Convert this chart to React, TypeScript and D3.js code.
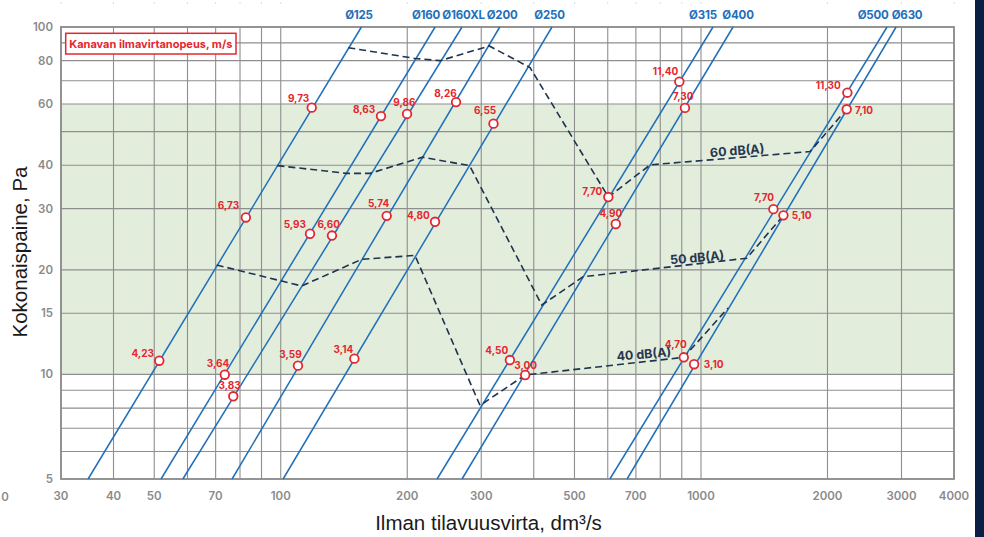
import React from "react";
import * as d3 from "d3";

// ---- Data ----
const xTicks = [30, 40, 50, 70, 100, 200, 300, 500, 700, 1000, 2000, 3000, 4000];
const xGrid = [30, 40, 50, 60, 70, 80, 90, 100, 200, 300, 400, 500, 600, 700, 800, 900, 1000, 2000, 3000, 4000];
const yTicks = [5, 10, 15, 20, 30, 40, 60, 80, 100];
const yGrid = [5, 6, 7, 8, 9, 10, 15, 20, 30, 40, 50, 60, 70, 80, 90, 100];

const ductNames = ["Ø125", "Ø160", "Ø160XL", "Ø200", "Ø250", "Ø315", "Ø400", "Ø500", "Ø630"];
const ductQAt5Pa = [34.8, 51.9, 58.5, 76.6, 101.3, 235.5, 270, 607, 667];
const ductQAt100Pa = [155.6, 233, 270, 332, 442, 1068, 1192, 2772, 2913];
const ductLabelQ = [153.5, 221.7, 272.3, 336.3, 436.2, 1011, 1225, 2568, 3093];

const velocityLabels = [
  "9,73", "6,73", "4,23",
  "8,63", "5,93", "3,64",
  "9,86", "6,60", "3,83",
  "8,26", "5,74", "3,59",
  "6,55", "4,80", "3,14",
  "11,40", "7,70", "4,50",
  "7,30", "4,90", "3,00",
  "11,30", "7,70", "4,70",
  "7,10", "5,10", "3,10",
];
const velocityQ = [
  118.5, 82.6, 51.4,
  173.2, 117.4, 73.6,
  199.8, 132.4, 77.1,
  261.3, 178.7, 109.9,
  320.8, 232.9, 149.7,
  888, 602, 351,
  916, 627, 381.7,
  2230, 1487, 910,
  2222, 1571, 963,
];
const velocityP = [
  58.6, 28.3, 10.95,
  55.4, 25.4, 9.98,
  56.2, 25.1, 8.65,
  60.8, 28.6, 10.6,
  52.7, 27.5, 11.1,
  69.6, 32.4, 11.0,
  58.5, 27.1, 9.96,
  64.7, 29.9, 11.2,
  57.96, 28.7, 10.7,
];
// label placement: [anchor, dx, dy]
const labelPlacement: [string, number, number][] = [
  ["end", -2.4, -6], ["end", -6.7, -8.4], ["end", -5.3, -4],
  ["end", -5.7, -3.6], ["end", -4, -5.4], ["end", 4.6, -8],
  ["middle", -2.7, -8], ["middle", -3.3, -7.7], ["middle", -3.6, -7],
  ["end", 0.7, -5.3], ["end", 2.5, -9], ["end", 3.7, -7.7],
  ["end", 2.7, -10], ["end", -5.3, -2.3], ["end", -1, -6],
  ["end", -1, -6.7], ["end", -6, -2.5], ["end", -1.7, -5.7],
  ["middle", -1.9, -8], ["middle", -4.9, -7.3], ["middle", 0.5, -6.4],
  ["end", -6.6, -3.4], ["end", 0.7, -7.7], ["end", 3, -9],
  ["start", 8.3, 4.3], ["start", 8.4, 4], ["start", 9.6, 3.6],
];

const line60: [number, number][] = [
  [144.8, 87.2], [208.7, 81.2], [239.4, 80.0], [313.5, 88.2], [392, 76.4],
  [602, 32.4], [756.7, 40.1], [1818, 43.8], [2222, 58.0],
];
const line50: [number, number][] = [
  [98.2, 39.9], [143.6, 37.9], [163.1, 37.9], [217.5, 42.2], [281.5, 39.9],
  [418, 15.84], [524, 19.1], [1285, 21.6], [1571, 28.7],
];
const line40: [number, number][] = [
  [70.4, 20.65], [112.2, 17.97], [155.9, 21.45], [208.7, 22.0], [298, 8.14],
  [381.7, 9.96], [910, 11.2], [1160, 15.53],
];
const dbLabelText = ["60 dB(A)", "50 dB(A)", "40 dB(A)"];
const dbLabelQ = [1219, 979, 731];
const dbLabelP = [44.1, 21.7, 11.45];
const dbLabelAngle = [-4.5, -5, -5];

const greenBand = [10, 60];

// ---- Layout ----
const W = 984;
const H = 537;
const x = d3.scaleLog().domain([30, 4000]).range([61, 954]);
const y = d3.scaleLog().domain([5, 100]).range([479, 27]);

const FONT = "Inter, 'Noto Sans', sans-serif";
const BLUE = "#1f6fba";
const RED = "#e42630";
const NAVY = "#1d3350";
const GRID = "#8e8e8e";

export default function App() {
  const line = d3
    .line<[number, number]>()
    .x((d) => x(d[0]))
    .y((d) => y(d[1]));

  const [x0, x1] = x.range();
  const [yb, yt] = y.range();

  return (
    <svg
      width={W}
      height={H}
      viewBox={`0 0 ${W} ${H}`}
      style={{ position: "absolute", left: 0, top: 0, background: "#fff" }}
      fontFamily={FONT}
    >
      {/* green band */}
      <rect
        x={x0}
        y={y(greenBand[1])}
        width={x1 - x0}
        height={y(greenBand[0]) - y(greenBand[1])}
        fill="#e3eddc"
      />
      {/* faint top marks */}
      {xGrid.map((v) => (
        <line key={"tm" + v} x1={x(v)} x2={x(v)} y1={2} y2={4} stroke="#dcdcdc" strokeWidth={1} />
      ))}
      {/* grid */}
      {xGrid.map((v) => (
        <line key={"gx" + v} x1={x(v)} x2={x(v)} y1={yt} y2={yb} stroke={GRID} strokeWidth={1.1} />
      ))}
      {yGrid.map((v) => (
        <line key={"gy" + v} x1={x0} x2={x1} y1={y(v)} y2={y(v)} stroke={GRID} strokeWidth={1.1} />
      ))}
      <rect x={x0} y={yt} width={x1 - x0} height={yb - yt} fill="none" stroke={GRID} strokeWidth={1.8} />

      {/* tick labels */}
      {yTicks.map((v) => (
        <text
          key={"ty" + v}
          x={53}
          y={y(v)}
          textAnchor="end"
          dominantBaseline="central"
          fontSize={11.5}
          fontWeight={600}
          fill="#8a8a8a"
        >
          {v}
        </text>
      ))}
      {xTicks.map((v) => (
        <text
          key={"tx" + v}
          x={x(v)}
          y={496}
          textAnchor="middle"
          dominantBaseline="central"
          fontSize={11.5}
          fontWeight={600}
          fill="#8a8a8a"
        >
          {v}
        </text>
      ))}
      <text x={5} y={497} textAnchor="middle" dominantBaseline="central" fontSize={11.5} fontWeight={600} fill="#8a8a8a">
        0
      </text>

      {/* duct lines */}
      {ductNames.map((n, i) => (
        <line
          key={"d" + n}
          x1={x(ductQAt5Pa[i])}
          y1={y(5)}
          x2={x(ductQAt100Pa[i])}
          y2={y(100)}
          stroke={BLUE}
          strokeWidth={1.5}
        />
      ))}
      {ductNames.map((n, i) => (
        <text
          key={"dl" + n}
          x={x(ductLabelQ[i])}
          y={19}
          textAnchor="middle"
          fontSize={11.5}
          fontWeight={700}
          letterSpacing={-0.2}
          fill={BLUE}
        >
          {n}
        </text>
      ))}

      {/* sound level dashed lines */}
      {[line60, line50, line40].map((l, i) => (
        <path
          key={"s" + i}
          d={line(l) || ""}
          fill="none"
          stroke={NAVY}
          strokeWidth={1.6}
          strokeDasharray="7 4"
        />
      ))}
      {dbLabelText.map((t, i) => (
        <text
          key={"db" + i}
          transform={`translate(${x(dbLabelQ[i])},${y(dbLabelP[i])}) rotate(${dbLabelAngle[i]})`}
          textAnchor="middle"
          dominantBaseline="central"
          fontSize={12.5}
          fontWeight={700}
          fill="#27364f"
        >
          {t}
        </text>
      ))}

      {/* velocity points */}
      {velocityLabels.map((t, i) => {
        const cx = x(velocityQ[i]);
        const cy = y(velocityP[i]);
        const [anchor, dx, dy] = labelPlacement[i];
        return (
          <g key={"v" + i}>
            <text
              x={cx + dx}
              y={cy + dy}
              textAnchor={anchor as any}
              fontSize={10}
              fontWeight={700}
              fill={RED}
            >
              {t}
            </text>
            <circle cx={cx} cy={cy} r={4.3} fill="#fff" stroke={RED} strokeWidth={1.8} />
          </g>
        );
      })}

      {/* legend box */}
      <rect x={65.7} y={33.3} width={170.3} height={20.7} fill="#fff" stroke={RED} strokeWidth={1.5} />
      <text x={150.8} y={48} textAnchor="middle" fontSize={11} fontWeight={700} fill={RED}>
        Kanavan ilmavirtanopeus, m/s
      </text>

      {/* axis titles */}
      <text
        transform={`translate(27,252) rotate(-90)`}
        textAnchor="middle"
        fontSize={20.5}
        fill="#1a1a1a"
        fontFamily="'Liberation Sans', Arial, sans-serif"
      >
        Kokonaispaine, Pa
      </text>
      <text
        x={488.5}
        y={529.5}
        textAnchor="middle"
        fontSize={20.5}
        fill="#1a1a1a"
        fontFamily="'Liberation Sans', Arial, sans-serif"
      >
        Ilman tilavuusvirta, dm³/s
      </text>

      {/* right navy bar */}
      <rect x={975} y={0} width={9} height={H} fill="#0b1f45" />
    </svg>
  );
}
